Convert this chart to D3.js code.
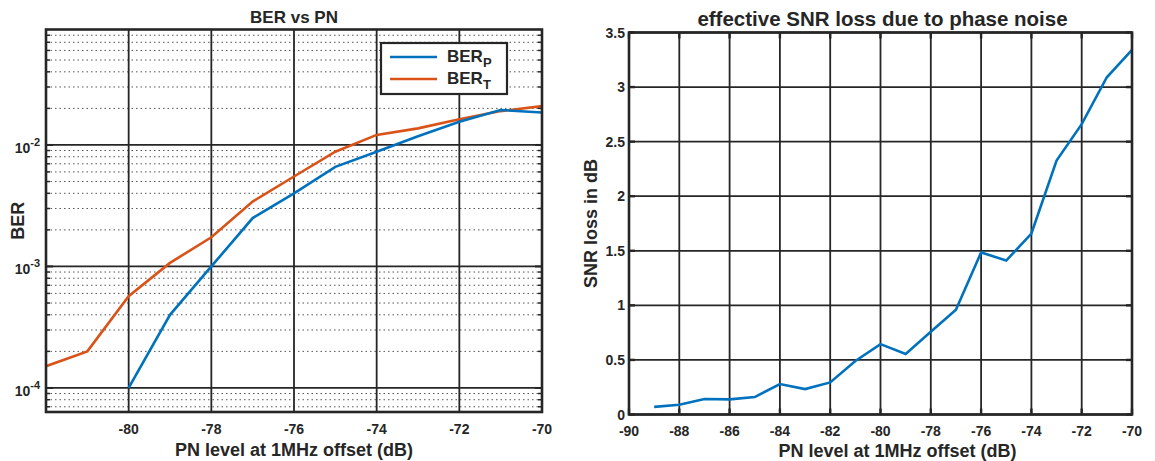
<!DOCTYPE html>
<html>
<head>
<meta charset="utf-8">
<script src="https://cdn.jsdelivr.net/npm/d3@7"></script>
<style>
body { margin: 0; background: #fff; }
text { font-family: "Liberation Sans", Arial, sans-serif; font-weight: bold; fill: #262626; }
</style>
</head>
<body>
<svg id="chart" width="1155" height="461"></svg>
<script>
// left chart data (BER vs PN)
var pnT = [-82, -81, -80, -79, -78, -77, -76, -75, -74, -73, -72, -71, -70];
var berT = [1.51e-4, 2.0e-4, 5.7e-4, 1.07e-3, 1.74e-3, 3.42e-3, 5.5e-3, 8.8e-3, 1.21e-2, 1.37e-2, 1.63e-2, 1.9e-2, 2.09e-2];
var pnP = [-80, -79, -78, -77, -76, -75, -74, -73, -72, -71, -70];
var berP = [1.0e-4, 4.0e-4, 1.0e-3, 2.5e-3, 4.0e-3, 6.6e-3, 8.8e-3, 1.18e-2, 1.55e-2, 1.94e-2, 1.85e-2];
var berXTicks = [-80, -78, -76, -74, -72, -70];
var berYTicks = [1e-4, 1e-3, 1e-2];
var berYExp = ["-4", "-3", "-2"];

// right chart data (SNR loss)
var pnSnr = [-89, -88, -87, -86, -85, -84, -83, -82, -81, -80, -79, -78, -77, -76, -75, -74, -73, -72, -71, -70];
var snrLoss = [0.07, 0.09, 0.142, 0.139, 0.16, 0.279, 0.233, 0.294, 0.49, 0.645, 0.555, 0.758, 0.96, 1.485, 1.41, 1.658, 2.327, 2.66, 3.09, 3.34];
var snrXTicks = [-90, -88, -86, -84, -82, -80, -78, -76, -74, -72, -70];
var snrYTicks = [0, 0.5, 1, 1.5, 2, 2.5, 3, 3.5];

var blue = "#0072BD", orange = "#D95319", ink = "#262626";
var svg = d3.select("#chart");

// ---------- left plot ----------
var L = { x0: 46, x1: 542, y0: 29.5, y1: 412 };
var x1 = d3.scaleLinear().domain([-82, -70]).range([L.x0, L.x1]);
var y1 = d3.scaleLog().domain([6.34e-5, 0.0892]).range([L.y1, L.y0]);

var gL = svg.append("g");
gL.append("clipPath").attr("id", "clipL").append("rect")
  .attr("x", L.x0).attr("y", L.y0).attr("width", L.x1 - L.x0).attr("height", L.y1 - L.y0);

// minor log values
var minors = [];
for (var k = -5; k <= -1; k++) {
  for (var m = 2; m <= 9; m++) {
    var v = m * Math.pow(10, k);
    if (v > y1.domain()[0] && v < y1.domain()[1]) minors.push(v);
  }
}

gL.selectAll(".minor").data(minors).enter().append("line")
  .attr("x1", L.x0).attr("x2", L.x1)
  .attr("y1", function(d) { return y1(d); }).attr("y2", function(d) { return y1(d); })
  .attr("stroke", "#555").attr("stroke-width", 1).attr("stroke-dasharray", "1.5,3");

gL.selectAll(".vgrid").data(berXTicks).enter().append("line")
  .attr("x1", function(d) { return x1(d); }).attr("x2", function(d) { return x1(d); })
  .attr("y1", L.y0).attr("y2", L.y1)
  .attr("stroke", ink).attr("stroke-width", 1.8);

gL.selectAll(".hgrid").data(berYTicks).enter().append("line")
  .attr("x1", L.x0).attr("x2", L.x1)
  .attr("y1", function(d) { return y1(d); }).attr("y2", function(d) { return y1(d); })
  .attr("stroke", ink).attr("stroke-width", 1.8);

var lineL = d3.line().x(function(d) { return x1(d[0]); }).y(function(d) { return y1(d[1]); });
gL.append("path").datum(d3.zip(pnT, berT)).attr("d", lineL)
  .attr("fill", "none").attr("stroke", orange).attr("stroke-width", 2.6).attr("clip-path", "url(#clipL)");
gL.append("path").datum(d3.zip(pnP, berP)).attr("d", lineL)
  .attr("fill", "none").attr("stroke", blue).attr("stroke-width", 2.6).attr("clip-path", "url(#clipL)");

// inward ticks
minors.forEach(function(d) {
  gL.append("line").attr("x1", L.x0).attr("x2", L.x0 + 4).attr("y1", y1(d)).attr("y2", y1(d)).attr("stroke", ink).attr("stroke-width", 1.5);
  gL.append("line").attr("x1", L.x1).attr("x2", L.x1 - 4).attr("y1", y1(d)).attr("y2", y1(d)).attr("stroke", ink).attr("stroke-width", 1.5);
});
berYTicks.forEach(function(d) {
  gL.append("line").attr("x1", L.x0).attr("x2", L.x0 + 7).attr("y1", y1(d)).attr("y2", y1(d)).attr("stroke", ink).attr("stroke-width", 2);
  gL.append("line").attr("x1", L.x1).attr("x2", L.x1 - 7).attr("y1", y1(d)).attr("y2", y1(d)).attr("stroke", ink).attr("stroke-width", 2);
});

gL.append("rect").attr("x", L.x0).attr("y", L.y0).attr("width", L.x1 - L.x0).attr("height", L.y1 - L.y0)
  .attr("fill", "none").attr("stroke", ink).attr("stroke-width", 2.6);

// tick labels
gL.selectAll(".xt").data(berXTicks).enter().append("text")
  .attr("x", function(d) { return x1(d); }).attr("y", L.y1 + 22)
  .attr("text-anchor", "middle").attr("font-size", 14)
  .text(function(d) { return d; });

var yt = gL.selectAll(".yt").data(berYTicks).enter().append("text")
  .attr("x", L.x0 - 6).attr("y", function(d) { return y1(d) + 8; })
  .attr("text-anchor", "end").attr("font-size", 14);
yt.append("tspan").text("10");
yt.append("tspan").attr("dy", -7).attr("font-size", 11).text(function(d, i) { return berYExp[i]; });

gL.append("text").attr("x", (L.x0 + L.x1) / 2).attr("y", 23).attr("text-anchor", "middle")
  .attr("font-size", 17).attr("fill", "#000").text("BER vs PN");
gL.append("text").attr("x", (L.x0 + L.x1) / 2).attr("y", 456).attr("text-anchor", "middle")
  .attr("font-size", 18).text("PN level at 1MHz offset (dB)");
gL.append("text").attr("transform", "translate(24," + ((L.y0 + L.y1) / 2) + ") rotate(-90)")
  .attr("text-anchor", "middle").attr("font-size", 18).text("BER");

// legend
var leg = gL.append("g");
leg.append("rect").attr("x", 381).attr("y", 43).attr("width", 126).attr("height", 51)
  .attr("fill", "#fff").attr("stroke", ink).attr("stroke-width", 2.2);
var legItems = [{ name: "P", color: blue, y: 57 }, { name: "T", color: orange, y: 79 }];
legItems.forEach(function(it) {
  leg.append("line").attr("x1", 390).attr("x2", 437).attr("y1", it.y).attr("y2", it.y)
    .attr("stroke", it.color).attr("stroke-width", 2.6);
  var t = leg.append("text").attr("x", 447).attr("y", it.y + 5).attr("font-size", 17);
  t.append("tspan").text("BER");
  t.append("tspan").attr("dy", 5).attr("font-size", 13).text(it.name);
});

// ---------- right plot ----------
var R = { x0: 629, x1: 1132, y0: 32.5, y1: 414.5 };
var x2 = d3.scaleLinear().domain([-90, -70]).range([R.x0, R.x1]);
var y2 = d3.scaleLinear().domain([0, 3.5]).range([R.y1, R.y0]);
var gR = svg.append("g");

gR.selectAll(".vgrid").data(snrXTicks).enter().append("line")
  .attr("x1", function(d) { return x2(d); }).attr("x2", function(d) { return x2(d); })
  .attr("y1", R.y0).attr("y2", R.y1).attr("stroke", ink).attr("stroke-width", 1.8);
gR.selectAll(".hgrid").data(snrYTicks).enter().append("line")
  .attr("x1", R.x0).attr("x2", R.x1)
  .attr("y1", function(d) { return y2(d); }).attr("y2", function(d) { return y2(d); })
  .attr("stroke", ink).attr("stroke-width", 1.8);

var lineR = d3.line().x(function(d) { return x2(d[0]); }).y(function(d) { return y2(d[1]); });
gR.append("path").datum(d3.zip(pnSnr, snrLoss)).attr("d", lineR)
  .attr("fill", "none").attr("stroke", blue).attr("stroke-width", 2.6);

snrXTicks.forEach(function(d) {
  gR.append("line").attr("x1", x2(d)).attr("x2", x2(d)).attr("y1", R.y1).attr("y2", R.y1 - 6).attr("stroke", ink).attr("stroke-width", 2.4);
  gR.append("line").attr("x1", x2(d)).attr("x2", x2(d)).attr("y1", R.y0).attr("y2", R.y0 + 6).attr("stroke", ink).attr("stroke-width", 2.4);
});
snrYTicks.forEach(function(d) {
  gR.append("line").attr("x1", R.x0).attr("x2", R.x0 + 6).attr("y1", y2(d)).attr("y2", y2(d)).attr("stroke", ink).attr("stroke-width", 2.4);
  gR.append("line").attr("x1", R.x1).attr("x2", R.x1 - 6).attr("y1", y2(d)).attr("y2", y2(d)).attr("stroke", ink).attr("stroke-width", 2.4);
});

gR.append("rect").attr("x", R.x0).attr("y", R.y0).attr("width", R.x1 - R.x0).attr("height", R.y1 - R.y0)
  .attr("fill", "none").attr("stroke", ink).attr("stroke-width", 2.6);

gR.selectAll(".xt").data(snrXTicks).enter().append("text")
  .attr("x", function(d) { return x2(d); }).attr("y", R.y1 + 21)
  .attr("text-anchor", "middle").attr("font-size", 14)
  .text(function(d) { return d; });
gR.selectAll(".yt").data(snrYTicks).enter().append("text")
  .attr("x", R.x0 - 4).attr("y", function(d) { return y2(d) + 5; })
  .attr("text-anchor", "end").attr("font-size", 14)
  .text(function(d) { return d; });

gR.append("text").attr("x", (R.x0 + R.x1) / 2 + 2).attr("y", 26).attr("text-anchor", "middle")
  .attr("font-size", 20.5).attr("fill", "#000").text("effective SNR loss due to phase noise");
gR.append("text").attr("x", (R.x0 + R.x1) / 2 + 17).attr("y", 457).attr("text-anchor", "middle")
  .attr("font-size", 18).text("PN level at 1MHz offset (dB)");
gR.append("text").attr("transform", "translate(597," + ((R.y0 + R.y1) / 2) + ") rotate(-90)")
  .attr("text-anchor", "middle").attr("font-size", 18).text("SNR loss in dB");
</script>
</body>
</html>
